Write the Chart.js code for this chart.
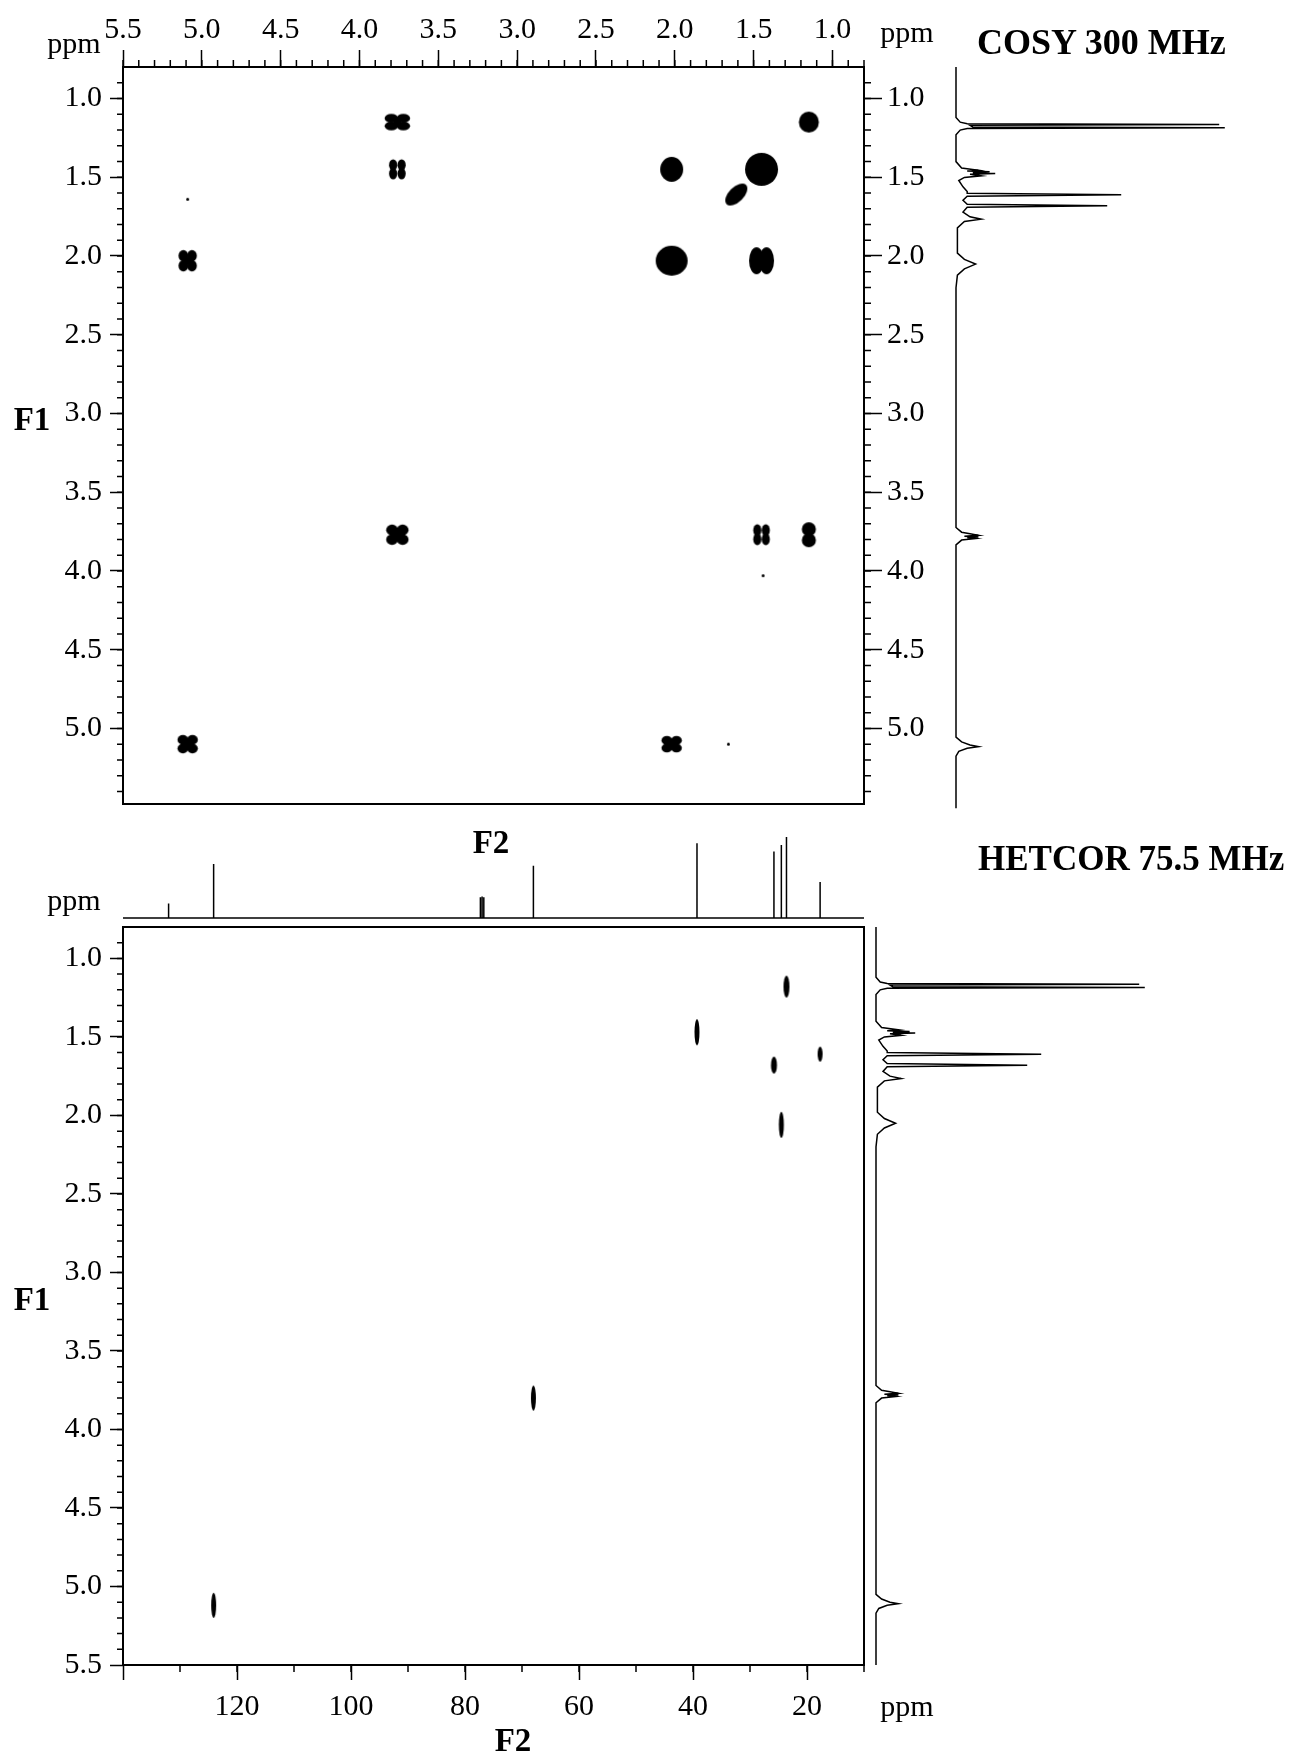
<!DOCTYPE html>
<html>
<head>
<meta charset="utf-8">
<script src="https://cdn.jsdelivr.net/npm/chart.js@4.4.1/dist/chart.umd.min.js"></script>
<style>
body{margin:0;background:#fff;width:1290px;height:1756px;position:relative;overflow:hidden;font-family:'Liberation Serif','Times New Roman',serif;color:#000}
canvas{position:absolute}
.t{position:absolute;white-space:nowrap;line-height:1;transform:translate(-50%,-50%)}
.l{position:absolute;white-space:nowrap;line-height:1;transform:translateY(-50%)}
.b{font-weight:bold}
</style>
</head>
<body>
<canvas id="cosy" width="960" height="830" style="left:0;top:0"></canvas>
<canvas id="cosy1d" width="350" height="830" style="left:940px;top:0"></canvas>
<canvas id="carbon" width="960" height="110" style="left:0;top:820px"></canvas>
<canvas id="hetcor" width="960" height="856" style="left:0;top:900px"></canvas>
<canvas id="hetcor1d" width="430" height="856" style="left:860px;top:900px"></canvas>

<div class="t" style="left:74px;top:43px;font-size:30px">ppm</div>
<div class="t" style="left:907px;top:32px;font-size:30px">ppm</div>
<div class="l b" style="left:977px;top:42px;font-size:36px">COSY 300 MHz</div>
<div class="t b" style="left:32px;top:419px;font-size:33px">F1</div>
<div class="t b" style="left:491px;top:842px;font-size:33px">F2</div>
<div class="l b" style="left:978px;top:858px;font-size:35px">HETCOR 75.5 MHz</div>
<div class="t" style="left:74px;top:900px;font-size:30px">ppm</div>
<div class="t b" style="left:32px;top:1299px;font-size:33px">F1</div>
<div class="t" style="left:907px;top:1706px;font-size:30px">ppm</div>
<div class="t b" style="left:513px;top:1740px;font-size:33px">F2</div>

<script>
// 1H spectrum (ppm, relative intensity)
var hPpm = [0.80, 1.12, 1.15, 1.160, 1.165, 1.170, 1.180, 1.185, 1.190, 1.20, 1.23,
  1.40, 1.44, 1.455, 1.46, 1.465, 1.47, 1.475, 1.48, 1.49, 1.50, 1.52, 1.56, 1.59, 1.60, 1.61, 1.62,
  1.645, 1.67, 1.68, 1.69, 1.72, 1.75, 1.765, 1.78, 1.82, 1.98, 2.02, 2.05, 2.08, 2.12, 2.20,
  3.72, 3.75, 3.76, 3.77, 3.775, 3.78, 3.785, 3.79, 3.80, 3.83,
  5.05, 5.08, 5.10, 5.11, 5.12, 5.14, 5.17, 5.50]
var hInt = [0, 0, 1.5, 4, 94, 5, 6, 96, 4, 1.5, 0,
  0, 2, 8, 4, 12, 6, 14, 5, 9, 3, 1, 2.5, 4, 4, 59, 4,
  2.5, 4, 54, 4, 2.5, 5, 9, 3, 0.5, 0.5, 3, 7, 3, 0.5, 0,
  0, 2, 5, 8, 3, 8, 4, 7, 2, 0,
  0, 2, 5, 8, 4, 1, 0, 0]

// 13C spectrum: peak positions (ppm) and heights
var cPpm = [132.0, 124.1, 77.3, 77.0, 76.7, 68.0, 39.3, 25.8, 24.5, 23.6, 17.7]
var cInt = [16, 60, 23, 24, 23, 58, 83, 74, 81, 90, 40]

// COSY cross peaks: F2 and F1 (ppm)
var cosyF2 = [3.76, 1.15, 3.76, 2.02, 1.45, 1.61, 5.09, 2.02, 1.45, 3.76, 1.45, 1.15, 5.09, 2.02, 5.09, 1.44, 1.66]
var cosyF1 = [1.15, 1.15, 1.45, 1.45, 1.45, 1.61, 2.03, 2.03, 2.03, 3.77, 3.77, 3.77, 5.10, 5.10, 1.64, 4.03, 5.10]

// HETCOR cross peaks: 13C (F2) and 1H (F1)
var hetC = [23.6, 39.3, 25.8, 17.7, 24.5, 68.0, 124.1]
var hetH = [1.18, 1.47, 1.68, 1.61, 2.06, 3.80, 5.12]

// look of each contour blob (shape, width, height in px)
var cosyLook = [['clover',25,16],['round',20,21],['quad',17,19],['round',23,25],['round',33,33],['tilt',38,15],
  ['clover',18,21],['round',32,30],['double',25,27],['clover',22,20],['quad',17,20],['pair',15,25],
  ['clover',20,18],['clover',20,16],['dot',3,3],['dot',3,3],['dot',3,3]]
var hetLook = [[6,22],[5,26],[6,17],[5,15],[5,26],[5,25],[5,25]]

var serif = "'Liberation Serif', 'Times New Roman', serif"
var tickFont = {family: serif, size: 30}

function blob(kind, w, h) {
  var c = document.createElement('canvas')
  var s = Math.ceil(Math.max(w, h)) + 6
  c.width = s; c.height = s
  var g = c.getContext('2d'), m = s / 2, r = Math.min(w, h)
  g.fillStyle = '#000'
  function ell(x, y, rx, ry, rot) { g.beginPath(); g.ellipse(x, y, rx, ry, rot || 0, 0, Math.PI * 2); g.fill() }
  if (kind == 'round') ell(m, m, w / 2, h / 2)
  else if (kind == 'dot') ell(m, m, 1.5, 1.5)
  else if (kind == 'tilt') ell(m, m, w / 2 * 0.72, h / 2, -Math.PI / 4)
  else if (kind == 'clover') {
    [[-1,-1],[1,-1],[-1,1],[1,1]].forEach(function(d){ ell(m + d[0]*w*0.24, m + d[1]*h*0.24, w*0.27, h*0.27) })
    ell(m, m, r * 0.22, r * 0.22)
  } else if (kind == 'quad') {
    [[-1,-1],[1,-1],[-1,1],[1,1]].forEach(function(d){ ell(m + d[0]*w*0.25, m + d[1]*h*0.23, w*0.24, h*0.3) })
  } else if (kind == 'pair') {
    ell(m, m - h*0.22, w*0.47, h*0.28); ell(m, m + h*0.22, w*0.47, h*0.28)
  } else if (kind == 'double') {
    ell(m - w*0.2, m, w*0.3, h/2); ell(m + w*0.2, m, w*0.3, h/2)
  }
  return c
}

function minorTicks(specs) {
  return {
    id: 'minorTicks',
    afterDraw: function(chart) {
      var ctx = chart.ctx, a = chart.chartArea
      ctx.save()
      ctx.strokeStyle = '#000'
      ctx.lineWidth = 1.5
      ctx.beginPath()
      specs.forEach(function(s) {
        var sc = chart.scales[s.scale]
        var n = Math.round((s.to - s.from) / s.step)
        for (var i = 0; i <= n; i++) {
          var p = sc.getPixelForValue(s.from + i * s.step)
          if (s.side == 'left') { ctx.moveTo(a.left, p); ctx.lineTo(a.left - s.len, p) }
          if (s.side == 'right') { ctx.moveTo(a.right, p); ctx.lineTo(a.right + s.len, p) }
          if (s.side == 'top') { ctx.moveTo(p, a.top); ctx.lineTo(p, a.top - s.len) }
          if (s.side == 'bottom') { ctx.moveTo(p, a.bottom); ctx.lineTo(p, a.bottom + s.len) }
        }
      })
      ctx.stroke()
      ctx.restore()
    }
  }
}

var framePlugin = {
  id: 'frame',
  afterDraw: function(chart) {
    var a = chart.chartArea, ctx = chart.ctx
    ctx.save()
    ctx.strokeStyle = '#000'
    ctx.lineWidth = 2
    ctx.strokeRect(a.left, a.top, a.right - a.left, a.bottom - a.top)
    ctx.restore()
  }
}

function ppmAxis(pos, min, max, step, tickLen, pad, size, fmt) {
  return {
    type: 'linear', position: pos, min: min, max: max, reverse: true,
    border: {display: false},
    grid: {drawOnChartArea: false, drawTicks: true, tickLength: tickLen, tickWidth: 1.5, tickColor: '#000'},
    ticks: {stepSize: step, includeBounds: false, autoSkip: false, maxRotation: 0, padding: pad,
      color: '#000', font: tickFont, callback: fmt},
    afterFit: function(s) { if (s.isHorizontal()) s.height = size; else s.width = size }
  }
}

var oneDec = function(v) { return Number(v).toFixed(1) }
var noPlugins = {legend: {display: false}, tooltip: {enabled: false}}

function pts(xs, ys) { return xs.map(function(x, i) { return {x: x, y: ys[i]} }) }

// COSY 2D map
new Chart(document.getElementById('cosy'), {
  type: 'scatter',
  data: {datasets: [{
    data: pts(cosyF2, cosyF1),
    pointStyle: cosyLook.map(function(l) { return blob(l[0], l[1], l[2]) }),
    pointRadius: 10, backgroundColor: '#000', borderColor: '#000'
  }]},
  options: {
    responsive: false, animation: false, events: [],
    layout: {padding: {left: 0, right: 0, top: 0, bottom: 25}},
    scales: {
      x: ppmAxis('top', 0.8, 5.5, 0.5, 17, 2, 67, oneDec),
      y: ppmAxis('left', 0.8, 5.48, 0.5, 13, 8, 123, oneDec),
      y2: ppmAxis('right', 0.8, 5.48, 0.5, 18, 5, 96, oneDec)
    },
    plugins: noPlugins
  },
  plugins: [framePlugin, minorTicks([
    {scale: 'x', side: 'top', from: 0.8, to: 5.5, step: 0.1, len: 7},
    {scale: 'y', side: 'left', from: 0.9, to: 5.4, step: 0.1, len: 6},
    {scale: 'y2', side: 'right', from: 0.9, to: 5.4, step: 0.1, len: 7}
  ])]
})

function protonTrace(id, maxPpm, pad) {
  new Chart(document.getElementById(id), {
    type: 'scatter',
    data: {datasets: [{data: pts(hInt, hPpm), showLine: true, borderColor: '#000', borderWidth: 1.5,
      pointRadius: 0, clip: false}]},
    options: {
      responsive: false, animation: false, events: [],
      layout: {padding: pad},
      scales: {
        x: {type: 'linear', min: 0, max: 100, display: false},
        y: {type: 'linear', min: 0.8, max: maxPpm, reverse: true, display: false}
      },
      plugins: noPlugins
    }
  })
}

protonTrace('cosy1d', 5.48, {left: 16, right: 54, top: 67, bottom: 25})

// 13C trace above the HETCOR map
var cPts = [{x: 140, y: 0}]
cPpm.forEach(function(p, i) { cPts.push({x: p, y: 0}, {x: p, y: cInt[i]}, {x: p, y: 0}) })
cPts.push({x: 10, y: 0})
new Chart(document.getElementById('carbon'), {
  type: 'scatter',
  data: {datasets: [{data: cPts, showLine: true, borderColor: '#000', borderWidth: 1.5, pointRadius: 0, clip: false}]},
  options: {
    responsive: false, animation: false, events: [],
    layout: {padding: {left: 123, right: 96, top: 8, bottom: 12}},
    scales: {
      x: {type: 'linear', min: 10, max: 140, reverse: true, display: false},
      y: {type: 'linear', min: 0, max: 100, display: false}
    },
    plugins: noPlugins
  }
})

// HETCOR 2D map
new Chart(document.getElementById('hetcor'), {
  type: 'scatter',
  data: {datasets: [{
    data: pts(hetC, hetH),
    pointStyle: hetLook.map(function(l) { return blob('round', l[0], l[1]) }),
    pointRadius: 10, backgroundColor: '#000', borderColor: '#000'
  }]},
  options: {
    responsive: false, animation: false, events: [],
    layout: {padding: {left: 0, right: 96, top: 27, bottom: 0}},
    scales: {
      x: ppmAxis('bottom', 10, 140, 20, 15, 9, 91, function(v) { return v >= 140 ? '' : String(v) }),
      y: ppmAxis('left', 0.8, 5.5, 0.5, 13, 8, 123, oneDec)
    },
    plugins: noPlugins
  },
  plugins: [framePlugin, minorTicks([
    {scale: 'x', side: 'bottom', from: 10, to: 130, step: 10, len: 7},
    {scale: 'y', side: 'left', from: 0.9, to: 5.4, step: 0.1, len: 6}
  ])]
})

protonTrace('hetcor1d', 5.5, {left: 16, right: 134, top: 27, bottom: 91})
</script>
</body>
</html>
